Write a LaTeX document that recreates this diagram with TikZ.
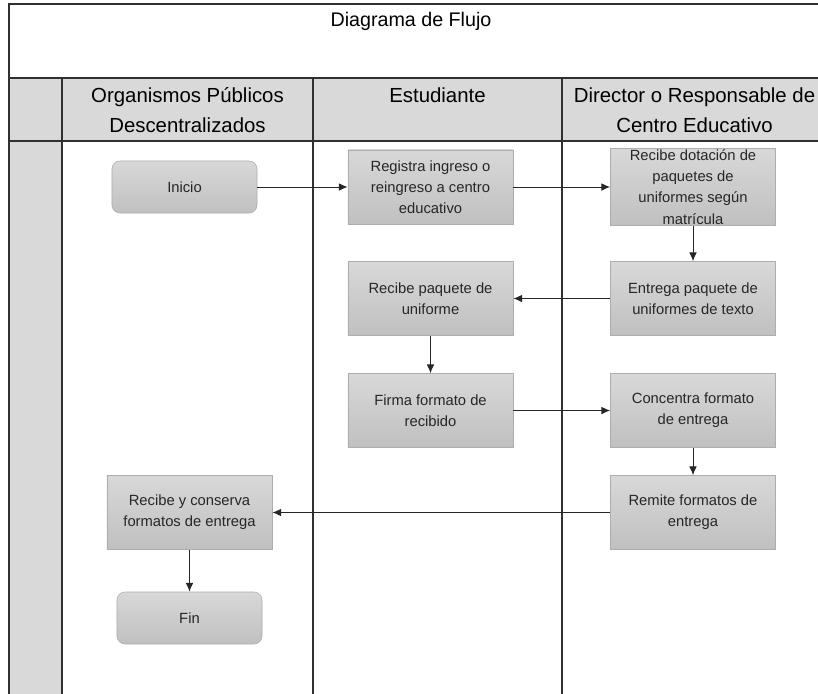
\documentclass[tikz,border=0pt]{standalone}
\usepackage{fontspec}
\setmainfont{Liberation Sans}
\usetikzlibrary{arrows.meta}
\definecolor{lanegray}{HTML}{D9D9D9}
\definecolor{boxtop}{HTML}{D8D8D8}
\definecolor{boxbottom}{HTML}{C0C0C0}
\definecolor{boxedge}{HTML}{ADADAD}
\definecolor{rulegray}{HTML}{303030}
\begin{document}
\begin{tikzpicture}[x=0.025cm, y=-0.025cm,
    proc/.style={draw=boxedge, top color=boxtop, bottom color=boxbottom,
      minimum width=4.125cm, minimum height=1.85cm, inner sep=1pt,
      align=center, text=black!85, font=\fontsize{10.5}{15}\selectfont},
    term/.style={proc, rounded corners=0.2cm, minimum width=3.625cm, minimum height=1.3cm},
    flow/.style={-{Latex[length=2.2mm,width=1.9mm]}, black!85, line width=0.7pt},
    lane/.style={draw=rulegray, line width=1.2pt},
    head/.style={align=center, font=\fontsize{14.5}{21}\selectfont}]
    \useasboundingbox (0,0) rectangle (818,693);
    \clip (0,0) rectangle (818,693);
    % swimlane frame
    \fill[lanegray] (9,78) rectangle (840,141);
    \fill[lanegray] (9,141) rectangle (62,710);
    \draw[lane] (9,710) -- (9,4) -- (840,4);
    \draw[lane] (9,78) -- (840,78);
    \draw[lane] (9,141) -- (840,141);
    \foreach \x in {62, 313, 562}
    { \draw[lane] (\x,78) -- (\x,710); }
    \node[font=\fontsize{14}{17}\selectfont] (titulo) at (411,21) {Diagrama de Flujo};
    \node[head] (opd) at (187.5,110) {Organismos Públicos\\Descentralizados};
    \node[head] (estudiante) at (437.5,95) {Estudiante};
    \node[head] (director) at (694.5,110) {Director o Responsable de\\Centro Educativo};
    % steps
    \node[term] (inicio) at (184.5,187) {Inicio};
    \node[proc] (registra) at (430.5,187) {Registra ingreso o\\reingreso a centro\\educativo};
    \node[proc] (dotacion) at (693,187) {Recibe dotación de\\paquetes de\\uniformes según\\matrícula};
    \node[proc] (entrega) at (693,298.5) {Entrega paquete de\\uniformes de texto};
    \node[proc] (recibe) at (430.5,298.5) {Recibe paquete de\\uniforme};
    \node[proc] (firma) at (430.5,410.5) {Firma formato de\\recibido};
    \node[proc] (concentra) at (693,410.5) {Concentra formato\\de entrega};
    \node[proc] (remite) at (693,512.5) {Remite formatos de\\entrega};
    \node[proc] (conserva) at (189.5,512.5) {Recibe y conserva\\formatos de entrega};
    \node[term] (fin) at (189.5,618) {Fin};
    % arrows
    \draw[flow] (inicio) -- (registra);
    \draw[flow] (registra) -- (dotacion);
    \draw[flow] (dotacion) -- (entrega);
    \draw[flow] (entrega) -- (recibe);
    \draw[flow] (recibe) -- (firma);
    \draw[flow] (firma) -- (concentra);
    \draw[flow] (concentra) -- (remite);
    \draw[flow] (remite) -- (conserva);
    \draw[flow] (conserva) -- (fin);
  \end{tikzpicture}
\end{document}
